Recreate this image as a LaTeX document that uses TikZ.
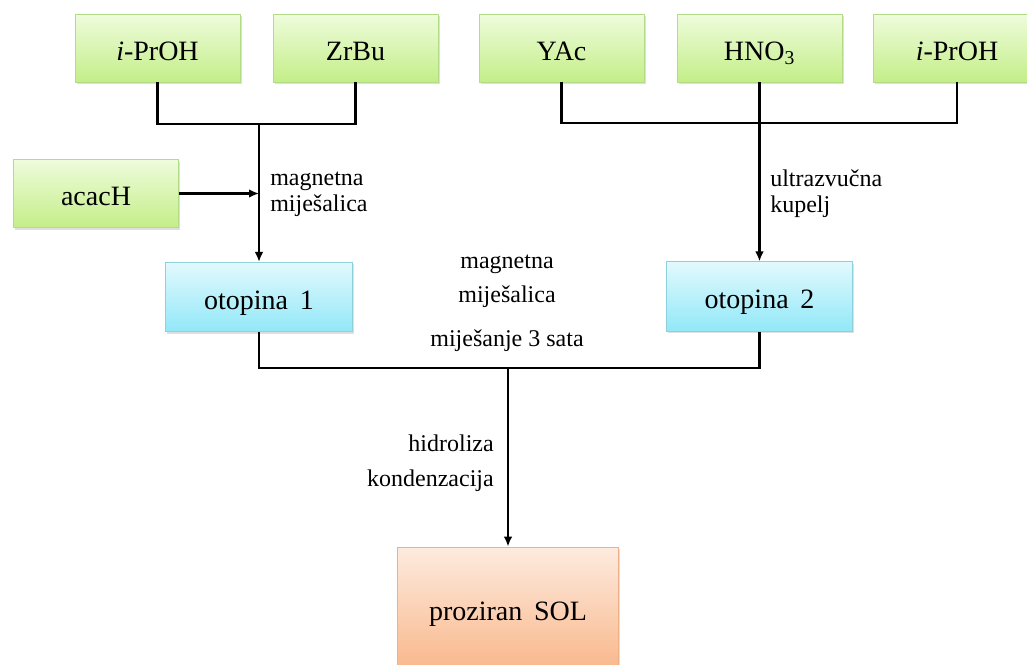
\documentclass[tikz,border=0pt]{standalone}
\usepackage{fontspec}
\setmainfont{Liberation Serif}
\usetikzlibrary{arrows.meta,shadows}
\definecolor{gtop}{HTML}{EEFCDC}
\definecolor{gbot}{HTML}{C4EE88}
\definecolor{gbrd}{HTML}{B2DC88}
\definecolor{btop}{HTML}{E2F9FE}
\definecolor{bbot}{HTML}{92E8F8}
\definecolor{bbrd}{HTML}{90D0DC}
\definecolor{otop}{HTML}{FDEBDF}
\definecolor{obot}{HTML}{F9B88C}
\definecolor{obrd}{HTML}{EEB088}
\tikzset{
  box/.style={rectangle, inner sep=0pt, font=\fontsize{21}{25}\selectfont,
    text height=19.5pt, text depth=1.5pt,
    drop shadow={opacity=0.25, shadow xshift=1.2pt, shadow yshift=-1.5pt}},
  gbox/.style={box, draw=gbrd, line width=0.6pt, top color=gtop, bottom color=gbot,
    minimum width=123.75pt, minimum height=51pt},
  bbox/.style={box, draw=bbrd, line width=0.6pt, top color=btop, bottom color=bbot,
    minimum width=140pt, minimum height=52pt},
  obox/.style={box, draw=obrd, line width=0.6pt, top color=otop, bottom color=obot,
    minimum width=166pt, minimum height=91.5pt},
  conn/.style={line width=1.6pt, black},
  arr/.style={conn, -{Latex[length=7.5pt,width=6.5pt]}},
  lbl/.style={inner sep=0pt, font=\fontsize{18}{19.5}\selectfont, align=left},
}
\begin{document}
\begin{tikzpicture}[x=0.75pt,y=-0.75pt]
\useasboundingbox (0,0) rectangle (1027,664);
\clip (0,0) rectangle (1027,664);
% boxes
\node[gbox] (ip1) at (157.5,48) {\textit{i}-PrOH};
\node[gbox] (zr)  at (355.5,48) {ZrBu};
\node[gbox] (yac) at (561.5,48) {YAc};
\node[gbox] (hno) at (759.5,48) {HNO\textsubscript{3}};
\node[gbox, minimum width=126pt] (ip2) at (957,48) {\textit{i}-PrOH};
\node[gbox] (acac) at (96,193.5) {acacH};
\node[bbox] (ot1) at (259,297) {otopina\, 1};
\node[bbox] (ot2) at (759.5,296.5) {otopina\, 2};
\node[obox] (sol) at (508,608) {proziran\, SOL};
% junctions
\coordinate (j1) at (259,124);
\coordinate (j2) at (759.5,123);
\coordinate (j3) at (508,368);
% connectors
\draw[conn] (ip1.south) |- (j1) -| (zr.south);
\draw[arr] (j1) -- (ot1.north);
\draw[arr] (acac.east) -- (acac.east -| j1);
\draw[conn] (yac.south) |- (j2) -| (ip2.south);
\draw[arr] (hno.south) -- (ot2.north);
\draw[conn] (ot1.south) |- (j3) -| (ot2.south);
\draw[arr] (j3) -- (sol.north);
% labels
\node[lbl, anchor=west] (l1) at (270,194) {magnetna\\miješalica};
\node[lbl, anchor=west] (l2) at (770,194) {ultrazvučna\\kupelj};
\node[lbl, align=center, font=\fontsize{18}{25.5}\selectfont] (l3) at (507,281) {magnetna\\miješalica};
\node[lbl, align=center] (l4) at (507,341) {miješanje 3 sata};
\node[lbl, align=right, anchor=east, font=\fontsize{18}{26}\selectfont] (l5) at (494,463) {hidroliza\\kondenzacija};
\end{tikzpicture}
\end{document}
